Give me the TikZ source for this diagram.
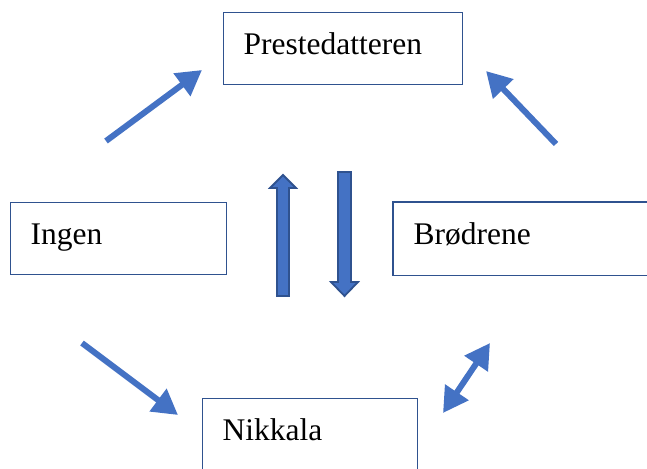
\documentclass[tikz,border=0pt]{standalone}
\usepackage{fontspec}
\setmainfont{Liberation Serif}
\usepackage{xcolor}
\usetikzlibrary{positioning,arrows.meta}

\definecolor{boxblue}{HTML}{2F528F}
\definecolor{arrblue}{HTML}{4472C4}

\tikzset{
  rolebox/.style={draw=boxblue, line width=1.4pt, anchor=north west, align=left,
    inner xsep=20pt, inner ysep=0pt, text height=42pt, text depth=30pt,
    font=\fontsize{31.5}{36}\selectfont},
  flow/.style={draw=arrblue, line width=6pt, -{Triangle[length=25pt,width=27pt]}},
  twoway/.style={draw=arrblue, line width=6pt, {Triangle[length=25pt,width=27pt]}-{Triangle[length=25pt,width=27pt]}},
  blockarrow/.style={fill=arrblue, draw=boxblue, line width=1.8pt, line join=miter}
}

\begin{document}
\begin{tikzpicture}[x=1pt, y=-1pt]
  \path[use as bounding box, clip] (0,0) rectangle (647,468);

  % Boxes
  \node[rolebox, text width=199pt] (prest) at (223,12) {Prestedatteren};
  \node[rolebox, text width=176pt] (ingen) at (10,202) {Ingen};
  \node[rolebox, text width=175pt] (nikk) at (202,398) {Nikkala};
  % this one runs off the right edge
  \node[rolebox, draw=none, text width=260pt] (brodre) at (393,202) {Brødrene};
  \draw[boxblue, line width=1.4pt] (brodre.north east) -- (brodre.north west)
    -- (brodre.south west) -- (brodre.south east);

  % Arrow ends
  \coordinate (a1s) at (106,141);
  \coordinate (a1e) at (202,70);
  \coordinate (a2s) at (556,144);
  \coordinate (a2e) at (486,71);
  \coordinate (a3s) at (82,343);
  \coordinate (a3e) at (178,415);
  \coordinate (a4s) at (443,413);
  \coordinate (a4e) at (490,343);

  \draw[flow] (a1s) -- (a1e);
  \draw[flow] (a2s) -- (a2e);
  \draw[flow] (a3s) -- (a3e);
  \draw[twoway] (a4s) -- (a4e);

  % Block arrows in the middle
  \draw[blockarrow] (277,296) -- (277,188) -- (270,188) -- (283,175)
    -- (296,188) -- (289,188) -- (289,296) -- cycle;
  \draw[blockarrow] (338,172) -- (351,172) -- (351,282) -- (358,282)
    -- (344.5,296) -- (331,282) -- (338,282) -- cycle;
\end{tikzpicture}
\end{document}
